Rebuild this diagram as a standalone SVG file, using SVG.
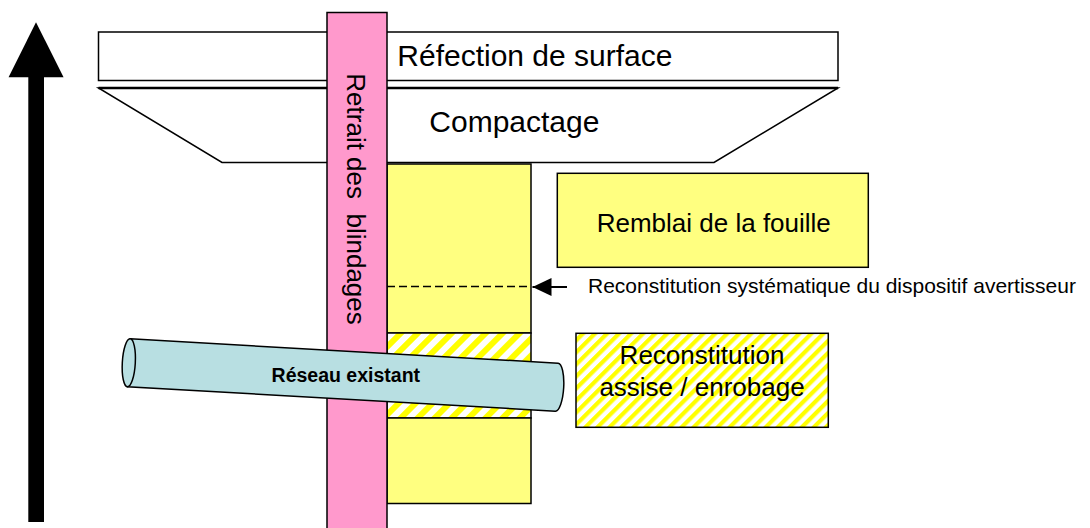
<svg xmlns="http://www.w3.org/2000/svg" width="1090" height="528" viewBox="0 0 1090 528">
  <defs>
    <pattern id="hatchCol" patternUnits="userSpaceOnUse" width="12" height="12" patternTransform="rotate(45)">
      <rect width="12" height="12" fill="#ffffff"/>
      <rect width="6" height="12" fill="#ffff00"/>
    </pattern>
    <pattern id="hatchBox" patternUnits="userSpaceOnUse" width="8.5" height="8.5" patternTransform="rotate(45)">
      <rect width="8.5" height="8.5" fill="#ffffff"/>
      <rect width="4.2" height="8.5" fill="#ffff00"/>
    </pattern>
    <marker id="arrowHead" markerWidth="20" markerHeight="18" refX="19" refY="9" orient="auto" markerUnits="userSpaceOnUse">
      <path d="M0,0 L19,9 L0,18 Z" fill="#000"/>
    </marker>
  </defs>
  <style>
    .box { stroke: #000; stroke-width: 1.5; }
    .txt { font-family: "Liberation Sans", Arial, sans-serif; fill: #000; }
    .yellow { fill: #ffff80; }
    .pink { fill: #ff99cc; }
    .pipe { fill: #b8dfe2; stroke: #000; stroke-width: 1.5; }
  </style>

  <rect width="1090" height="528" fill="#ffffff"/>

  <g id="refection-surface">
    <rect class="box" x="98.5" y="32" width="739.5" height="48.5" fill="#ffffff"/>
    <text class="txt" x="397.3" y="66" font-size="30">Réfection de surface</text>
  </g>

  <g id="compactage">
    <path d="M98.5,88 L838,88 L714,162.5 L222,162.5 Z" fill="#ffffff" stroke="#000" stroke-width="1.5"/>
    <line x1="98.5" y1="88" x2="838" y2="88" stroke="#000" stroke-width="2.5"/>
    <text class="txt" x="429.3" y="132" font-size="30">Compactage</text>
  </g>

  <g id="colonne-fouille">
    <rect class="box yellow" x="387" y="164" width="144" height="169"/>
    <rect class="box" x="387" y="333" width="144" height="85" fill="url(#hatchCol)"/>
    <rect class="box yellow" x="387" y="418" width="144" height="85.5"/>
    <line x1="387" y1="286.5" x2="531" y2="286.5" stroke="#000" stroke-width="1.5" stroke-dasharray="8,4"/>
  </g>

  <g id="retrait-blindages">
    <rect class="box pink" x="327" y="12.5" width="60" height="530"/>
    <text class="txt" transform="translate(347,73.3) rotate(90)" font-size="26" style="white-space:pre" xml:space="preserve">Retrait des  blindages</text>
  </g>

  <g id="reseau-existant">
    <g transform="translate(128.8,362.8) rotate(3.26)">
      <path class="pipe" d="M0,-24 L428.6,-24 A7 24 0 0 1 428.6,24 L0,24 Z"/>
      <ellipse class="pipe" cx="0" cy="0" rx="6.5" ry="24" fill="#c6e6e8"/>
    </g>
    <text class="txt" x="345.8" y="382" font-size="19.5" font-weight="bold" text-anchor="middle">Réseau existant</text>
  </g>

  <g id="remblai-fouille">
    <rect class="box yellow" x="557.3" y="173.3" width="311" height="94"/>
    <text class="txt" x="596.7" y="231.7" font-size="26">Remblai de la fouille</text>
  </g>

  <g id="reconstitution-assise">
    <rect class="box" x="576" y="333.3" width="252.3" height="94" fill="url(#hatchBox)"/>
    <text class="txt" x="702" y="364" font-size="26" text-anchor="middle">Reconstitution</text>
    <text class="txt" x="702" y="396" font-size="26" text-anchor="middle">assise / enrobage</text>
  </g>

  <g id="dispositif-avertisseur">
    <text class="txt" x="588" y="293.3" font-size="21">Reconstitution systématique du dispositif avertisseur</text>
  </g>

  <g id="connectors">
    <line x1="567" y1="287" x2="532.5" y2="287" stroke="#000" stroke-width="2" marker-end="url(#arrowHead)"/>
    <g id="fleche-ordre">
      <polygon points="36,22.3 63.6,77.3 8.6,77.3" fill="#000"/>
      <rect x="28.3" y="77" width="15.7" height="445" fill="#000"/>
    </g>
  </g>
</svg>
